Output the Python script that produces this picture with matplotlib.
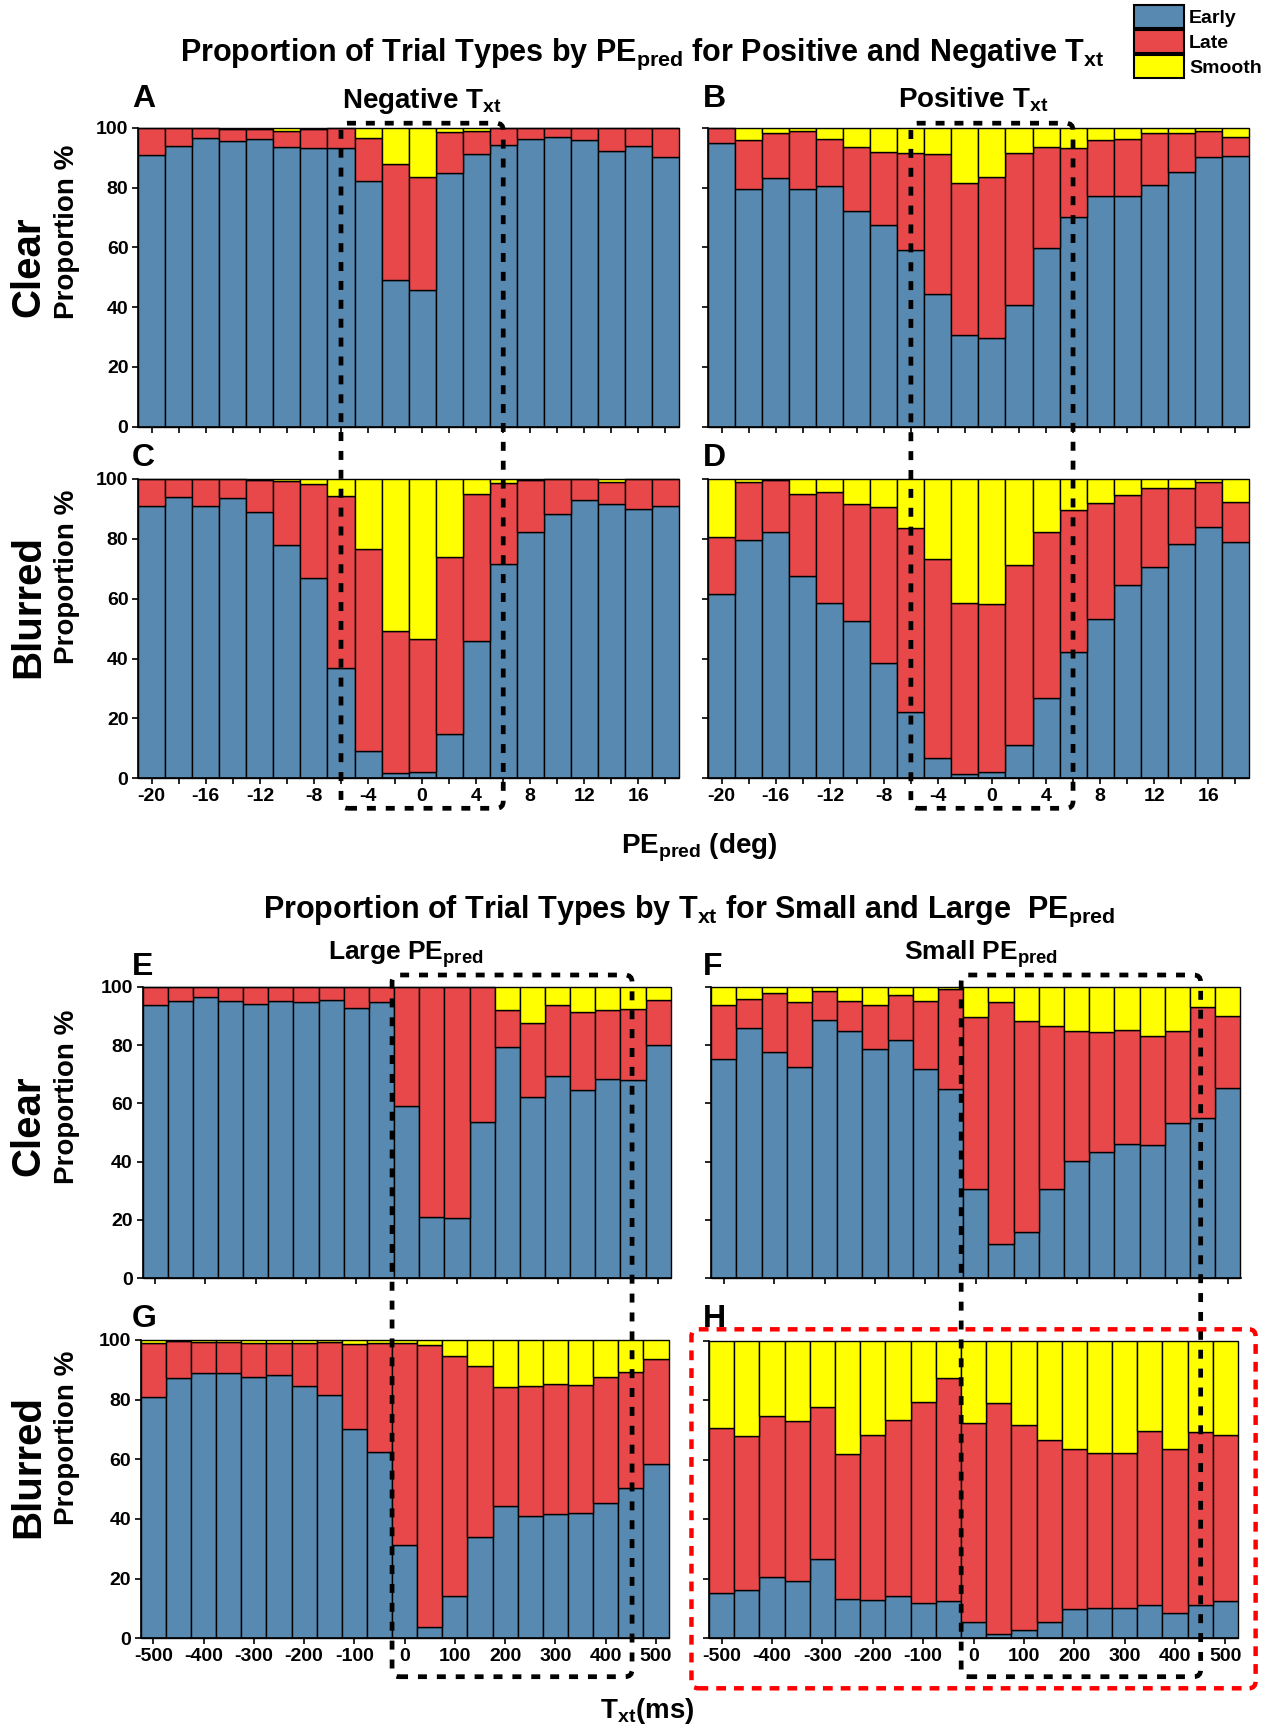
import matplotlib
matplotlib.use('Agg')
import matplotlib.pyplot as plt
from matplotlib.patches import FancyBboxPatch, Patch
from matplotlib.transforms import IdentityTransform
import numpy as np

W, H = 1272, 1727

pe_bins = [-20, -18, -16, -14, -12, -10, -8, -6, -4, -2, 0, 2, 4, 6, 8, 10, 12, 14, 16, 18]
txt_bins = [-500, -450, -400, -350, -300, -250, -200, -150, -100, -50, 0,
            50, 100, 150, 200, 250, 300, 350, 400, 450, 500]
pe_ticklabels = ['-20', '', '-16', '', '-12', '', '-8', '', '-4', '', '0', '', '4', '', '8', '', '12', '', '16', '']
txt_ticks = [-500, -400, -300, -200, -100, 0, 100, 200, 300, 400, 500]

# A: clear, negative Txt
early_A = [90.9, 94.0, 96.4, 95.7, 96.3, 93.6, 93.3, 93.1, 82.3, 48.9, 45.6, 84.8, 91.1, 94.2, 96.1, 96.8, 95.8, 92.3, 93.8, 90.1]
late_A = [9.1, 6.0, 3.6, 3.9, 3.4, 5.4, 6.4, 6.9, 14.4, 38.9, 37.8, 13.6, 7.7, 5.8, 3.9, 3.2, 4.2, 7.5, 6.2, 9.7]
smooth_A = [0.0, 0.0, 0.0, 0.4, 0.3, 1.0, 0.3, 0.0, 3.3, 12.2, 16.6, 1.6, 1.2, 0.0, 0.0, 0.0, 0.0, 0.2, 0.0, 0.2]

# B: clear, positive Txt
early_B = [94.8, 79.5, 83.3, 79.5, 80.6, 72.1, 67.3, 59.2, 44.5, 30.8, 29.5, 40.8, 59.9, 70.3, 77.0, 77.1, 80.7, 85.1, 90.3, 90.5]
late_B = [5.2, 16.4, 15.0, 19.3, 15.5, 21.3, 24.7, 32.2, 46.7, 50.6, 54.0, 50.8, 33.5, 22.8, 18.8, 19.0, 17.5, 13.2, 8.5, 6.4]
smooth_B = [0.0, 4.1, 1.7, 1.2, 3.9, 6.6, 8.0, 8.6, 8.8, 18.6, 16.5, 8.4, 6.6, 6.9, 4.2, 3.9, 1.8, 1.7, 1.2, 3.1]

# C: blurred, negative Txt
early_C = [91.0, 93.9, 91.1, 93.5, 88.9, 77.9, 67.0, 36.7, 9.0, 1.9, 2.1, 14.8, 45.8, 71.5, 82.4, 88.4, 92.9, 91.6, 89.9, 90.9]
late_C = [9.0, 6.1, 8.9, 6.5, 10.8, 21.3, 31.4, 57.5, 67.5, 47.2, 44.3, 59.1, 49.2, 27.3, 17.2, 11.6, 7.1, 7.4, 10.1, 9.1]
smooth_C = [0.0, 0.0, 0.0, 0.0, 0.3, 0.8, 1.6, 5.8, 23.5, 50.9, 53.6, 26.1, 5.0, 1.2, 0.4, 0.0, 0.0, 1.0, 0.0, 0.0]

# D: blurred, positive Txt
early_D = [61.7, 79.5, 82.2, 67.7, 58.5, 52.6, 38.4, 22.3, 6.9, 1.6, 2.0, 11.2, 26.7, 42.3, 53.2, 64.6, 70.7, 78.3, 84.0, 78.8]
late_D = [19.0, 19.6, 17.4, 27.3, 37.2, 38.9, 52.1, 61.3, 66.4, 57.1, 56.4, 60.2, 55.7, 47.3, 38.7, 29.9, 26.3, 18.6, 15.0, 13.5]
smooth_D = [19.3, 0.9, 0.4, 5.0, 4.3, 8.5, 9.5, 16.4, 26.7, 41.3, 41.6, 28.6, 17.6, 10.4, 8.1, 5.5, 3.0, 3.1, 1.0, 7.7]

# E: clear, large PEpred
early_E = [93.7, 95.0, 96.3, 95.0, 93.9, 95.0, 94.7, 95.5, 92.8, 94.9, 59.1, 20.9, 20.6, 53.7, 79.2, 62.3, 69.5, 64.5, 68.5, 67.9, 79.9]
late_E = [6.3, 5.0, 3.7, 5.0, 6.1, 5.0, 5.3, 4.5, 7.2, 5.1, 40.9, 79.1, 79.4, 46.3, 12.8, 25.2, 24.1, 26.8, 23.5, 24.3, 15.6]
smooth_E = [0.0, 0.0, 0.0, 0.0, 0.0, 0.0, 0.0, 0.0, 0.0, 0.0, 0.0, 0.0, 0.0, 0.0, 8.0, 12.5, 6.4, 8.7, 8.0, 7.8, 4.5]

# F: clear, small PEpred
early_F = [75.3, 85.9, 77.6, 72.3, 88.5, 84.7, 78.6, 81.8, 71.9, 64.8, 30.5, 11.7, 16.0, 30.7, 40.2, 43.4, 46.2, 45.6, 53.4, 55.1, 65.3]
late_F = [18.3, 10.0, 20.2, 22.4, 9.9, 10.3, 15.0, 15.3, 23.2, 34.3, 59.2, 83.0, 72.2, 55.8, 44.6, 41.2, 38.8, 37.4, 31.5, 38.0, 24.5]
smooth_F = [6.4, 4.1, 2.2, 5.3, 1.6, 5.0, 6.4, 2.9, 4.9, 0.9, 10.3, 5.3, 11.8, 13.5, 15.2, 15.4, 15.0, 17.0, 15.1, 6.9, 10.2]

# G: blurred, large PEpred
early_G = [81.0, 87.2, 88.9, 88.8, 87.6, 88.4, 84.5, 81.5, 70.3, 62.3, 31.2, 3.8, 14.1, 34.0, 44.4, 41.1, 41.8, 41.9, 45.4, 50.3, 58.4]
late_G = [17.9, 12.6, 10.4, 10.6, 11.3, 10.6, 14.6, 17.7, 28.4, 36.8, 67.7, 94.6, 80.6, 57.4, 39.7, 43.6, 43.5, 43.0, 42.1, 38.9, 35.1]
smooth_G = [1.1, 0.2, 0.7, 0.6, 1.1, 1.0, 0.9, 0.8, 1.3, 0.9, 1.1, 1.6, 5.3, 8.6, 15.9, 15.3, 14.7, 15.1, 12.5, 10.8, 6.5]

# H: blurred, small PEpred
early_H = [15.1, 16.1, 20.6, 19.4, 26.7, 13.3, 12.9, 14.2, 12.0, 12.7, 5.5, 1.5, 2.7, 5.4, 9.9, 10.3, 10.3, 11.3, 8.6, 11.2, 12.5]
late_H = [55.6, 51.8, 54.2, 53.7, 51.0, 48.7, 55.5, 59.0, 67.3, 74.8, 66.8, 77.4, 69.1, 61.1, 53.8, 51.9, 52.1, 58.4, 54.9, 58.2, 55.8]
smooth_H = [29.3, 32.1, 25.2, 26.9, 22.3, 38.0, 31.6, 26.8, 20.7, 12.5, 27.7, 21.1, 28.2, 33.5, 36.3, 37.8, 37.6, 30.3, 36.5, 30.6, 31.7]

BLUE = '#5889b1'
RED = '#e84849'
YELLOW = '#ffff00'

plt.rcParams['font.family'] = ['Liberation Sans', 'DejaVu Sans']
plt.rcParams['font.weight'] = 'bold'
plt.rcParams['axes.unicode_minus'] = False
plt.rcParams['mathtext.fontset'] = 'custom'
plt.rcParams['mathtext.rm'] = 'Liberation Sans:bold'
plt.rcParams['mathtext.it'] = 'Liberation Sans:bold'
plt.rcParams['mathtext.bf'] = 'Liberation Sans:bold'

fig = plt.figure(figsize=(W / 100, H / 100), dpi=100)


def add_ax(x0, x1, top, bottom):
    # pixel box measured from the top-left corner
    return fig.add_axes([x0 / W, 1 - bottom / H, (x1 - x0) / W, (bottom - top) / H])


def stacked(ax, x, width, early, late, smooth):
    early = np.array(early)
    late = np.array(late)
    kw = dict(width=width, edgecolor='black', linewidth=1.0, clip_on=False)
    ax.bar(x, early, color=BLUE, **kw)
    ax.bar(x, late, bottom=early, color=RED, **kw)
    ax.bar(x, smooth, bottom=early + late, color=YELLOW, **kw)
    ax.set_ylim(0, 100)
    ax.set_yticks([0, 20, 40, 60, 80, 100])
    for s in ['top', 'right']:
        ax.spines[s].set_visible(False)
    for s in ['left', 'bottom']:
        ax.spines[s].set_linewidth(1.2)
    ax.tick_params(direction='out', length=4, width=1.2, labelsize=14, pad=3)


ax_A = add_ax(138.2, 679.0, 127.7, 426.7)
ax_B = add_ax(708.2, 1248.7, 127.7, 426.7)
ax_C = add_ax(138.2, 679.0, 479.0, 778.3)
ax_D = add_ax(708.2, 1248.7, 479.0, 778.3)
ax_E = add_ax(142.5, 670.8, 986.7, 1278.3)
ax_F = add_ax(711.1, 1240.5, 986.7, 1278.3)
ax_G = add_ax(140.7, 668.6, 1340.0, 1638.3)
ax_H = add_ax(709.1, 1238.0, 1340.7, 1638.3)

for ax, e, l, s in [(ax_A, early_A, late_A, smooth_A), (ax_B, early_B, late_B, smooth_B),
                    (ax_C, early_C, late_C, smooth_C), (ax_D, early_D, late_D, smooth_D)]:
    stacked(ax, pe_bins, 2, e, l, s)
    ax.set_xlim(-21, 19)
    ax.set_xticks(pe_bins)
    ax.set_xticklabels(pe_ticklabels)

for ax, e, l, s in [(ax_E, early_E, late_E, smooth_E), (ax_F, early_F, late_F, smooth_F),
                    (ax_G, early_G, late_G, smooth_G), (ax_H, early_H, late_H, smooth_H)]:
    stacked(ax, txt_bins, 50, e, l, s)
    ax.set_xlim(-525, 525)
    ax.set_xticks(txt_ticks)

for ax in [ax_A, ax_B, ax_E, ax_F]:
    ax.tick_params(labelbottom=False)
for ax in [ax_B, ax_D, ax_F, ax_H]:
    ax.tick_params(labelleft=False)


def ftext(x, y, s, **kw):
    return fig.text(x / W, 1 - y / H, s, **kw)


# titles and labels
ftext(642, 60.5, r'Proportion of Trial Types by PE$_{pred}$ for Positive and Negative T$_{xt}$',
      fontsize=22, ha='center', va='baseline')
ftext(688.5, 918, r'Proportion of Trial Types by T$_{xt}$ for Small and Large  PE$_{pred}$',
      fontsize=22, ha='center', va='baseline')
ftext(421.5, 108, r'Negative T$_{xt}$', fontsize=20, ha='center', va='baseline')
ftext(973.5, 108, r'Positive T$_{xt}$', fontsize=20, ha='center', va='baseline')
ftext(406, 960, r'Large PE$_{pred}$', fontsize=19, ha='center', va='baseline')
ftext(980.5, 960, r'Small PE$_{pred}$', fontsize=19, ha='center', va='baseline')
ftext(699, 853, r'PE$_{pred}$ (deg)', fontsize=20, ha='center', va='baseline')
ftext(647, 1718, r'T$_{xt}$(ms)', fontsize=20, ha='center', va='baseline')

for letter, x, y in [('A', 132, 107), ('B', 703, 107), ('C', 132, 466), ('D', 703, 466),
                     ('E', 132, 975), ('F', 703, 975), ('G', 132, 1327), ('H', 703, 1327)]:
    ftext(x, y, letter, fontsize=23, ha='left', va='baseline')

for name, yc, yp in [('Clear', 267, 232), ('Blurred', 607, 577),
                     ('Clear', 1126, 1097), ('Blurred', 1466, 1438)]:
    ftext(28.5, yc, name, fontsize=29, rotation=90, ha='center', va='center')
    ftext(67, yp, 'Proportion %', fontsize=20, rotation=90, ha='center', va='center')

# legend
handles = [Patch(facecolor=BLUE, edgecolor='black', lw=1.5, label='Early'),
           Patch(facecolor=RED, edgecolor='black', lw=1.5, label='Late'),
           Patch(facecolor=YELLOW, edgecolor='black', lw=1.5, label='Smooth')]
fig.legend(handles=handles, loc='upper left', bbox_to_anchor=(1134 / W, 1 - 5.5 / H),
           frameon=False, fontsize=14, handlelength=2.58, handleheight=1.44,
           labelspacing=0.1, handletextpad=0.26, borderpad=0, borderaxespad=0)


def dashed_box(ax_top, ax_bot, x_left, x_right, pad_top, pad_bot, color, lw, dash):
    xl = ax_top.transData.transform((x_left, 0))[0]
    xr = ax_top.transData.transform((x_right, 0))[0]
    top = ax_top.transAxes.transform((0, 1))[1] + pad_top
    bot = ax_bot.transAxes.transform((0, 0))[1] - pad_bot
    box = FancyBboxPatch((xl, bot), xr - xl, top - bot,
                         boxstyle='round,pad=0,rounding_size=7',
                         transform=IdentityTransform(), fill=False,
                         edgecolor=color, linewidth=lw, linestyle=(0, dash), zorder=10)
    fig.add_artist(box)


dashed_box(ax_A, ax_C, -6, 6, 4.5, 30, 'black', 3.4, (1.9, 2.1))
dashed_box(ax_B, ax_D, -6, 6, 4.5, 30, 'black', 3.4, (1.9, 2.1))
dashed_box(ax_E, ax_G, -29, 448, 11.7, 38.4, 'black', 3.4, (1.9, 2.1))
dashed_box(ax_F, ax_H, -29, 446, 11.7, 38.4, 'black', 3.4, (1.9, 2.1))
dashed_box(ax_H, ax_H, -560, 560, 11.4, 50, '#ff0000', 3.2, (2.2, 1.8))

plt.savefig('out.png', dpi=100)
